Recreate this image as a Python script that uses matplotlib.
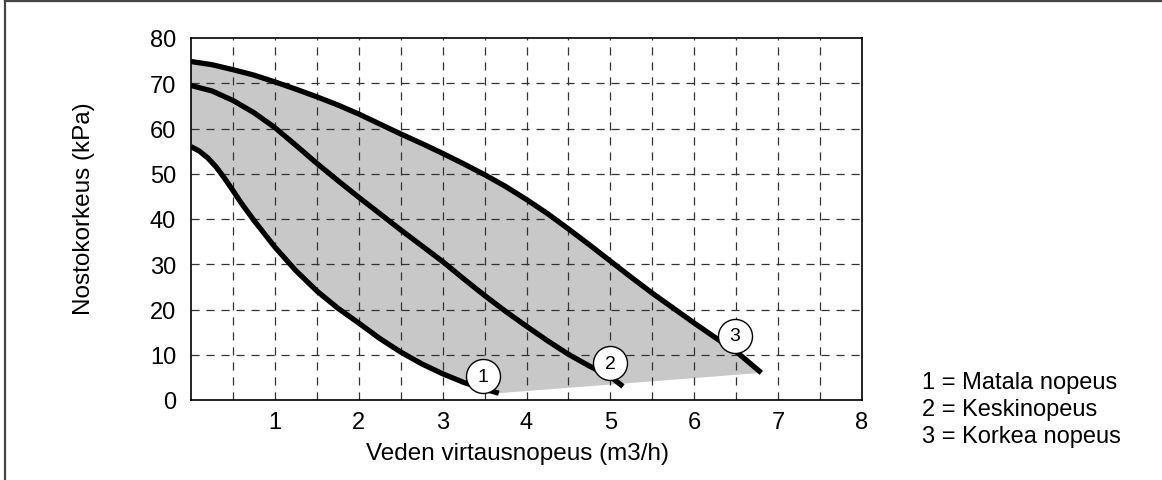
import matplotlib
matplotlib.use("Agg")
import matplotlib.pyplot as plt
from matplotlib.patches import Polygon
from matplotlib.lines import Line2D

plt.rcParams['font.family'] = ['Liberation Sans', 'DejaVu Sans']

# Curve 1 = Matala nopeus
x1 = [0.0, 0.1, 0.2, 0.3, 0.4, 0.5, 0.6, 0.75, 1.0, 1.25, 1.5, 1.75, 2.0, 2.25, 2.5, 2.75, 3.0, 3.25, 3.5, 3.67]
y1 = [56.0, 55.0, 53.5, 51.5, 49.0, 46.3, 43.5, 39.7, 33.8, 28.6, 24.1, 20.3, 17.0, 13.6, 10.6, 8.0, 5.8, 3.9, 2.4, 1.5]
# Curve 2 = Keskinopeus
x2 = [0.0, 0.25, 0.5, 0.75, 1.0, 1.25, 1.5, 1.75, 2.0, 2.25, 2.5, 2.75, 3.0, 3.25, 3.5, 3.75, 4.0, 4.25, 4.5, 4.75, 5.0, 5.15]
y2 = [69.5, 68.3, 66.2, 63.5, 60.2, 56.3, 52.3, 48.5, 44.8, 41.2, 37.6, 34.1, 30.6, 26.8, 23.1, 19.6, 16.3, 13.1, 10.1, 7.5, 5.2, 3.0]
# Curve 3 = Korkea nopeus
x3 = [0.0, 0.25, 0.5, 0.75, 1.0, 1.25, 1.5, 1.75, 2.0, 2.25, 2.5, 2.75, 3.0, 3.25, 3.5, 3.75, 4.0, 4.25, 4.5, 4.75, 5.0, 5.25, 5.5, 5.75, 6.0, 6.25, 6.5, 6.8]
y3 = [74.8, 74.1, 73.0, 71.8, 70.3, 68.7, 67.0, 65.2, 63.2, 61.0, 58.8, 56.7, 54.5, 52.2, 49.8, 47.2, 44.3, 41.2, 37.8, 34.3, 30.7, 27.1, 23.6, 20.3, 17.0, 13.8, 10.7, 6.0]

# label circle positions
lab_x = [3.48, 5.0, 6.48]
lab_y = [5.3, 8.1, 14.2]
lab_t = ["1", "2", "3"]

xticks = [1, 2, 3, 4, 5, 6, 7, 8]
yticks = [0, 10, 20, 30, 40, 50, 60, 70, 80]
legend_lines = ["1 = Matala nopeus", "2 = Keskinopeus", "3 = Korkea nopeus"]

W, H = 1162, 481
fig = plt.figure(figsize=(W / 100, H / 100), dpi=100)
ax = fig.add_axes([191 / W, 1 - 401 / H, (862 - 191) / W, (401 - 39) / H])
ax.set_xlim(0, 8)
ax.set_ylim(0, 80)

# shaded operating area: under curve 3, above curve 1 and the line joining curve ends
lower = list(zip(x1, y1))[::-1]
pts = list(zip(x3, y3)) + lower + [(0, y3[0])]
ax.add_patch(Polygon(pts, closed=True, facecolor='#c8c8c8', edgecolor='none', zorder=1))

# grid
gkw = dict(color='#333333', lw=0.9, linestyle=(0, (6.5, 5.5)), zorder=2)
for gx in [0.5 * i for i in range(1, 16)]:
    ax.axvline(gx, **gkw)
for gy in range(10, 80, 10):
    ax.axhline(gy, **gkw)

for xs, ys in [(x1, y1), (x2, y2), (x3, y3)]:
    ax.plot(xs, ys, color='black', lw=3.8, solid_capstyle='butt', solid_joinstyle='round', zorder=3)

ax.plot(lab_x, lab_y, 'o', ms=24.5, mfc='white', mec='black', mew=1.0, zorder=4, ls='none')
for lx, ly, t in zip(lab_x, lab_y, lab_t):
    ax.text(lx, ly, t, ha='center', va='center', fontsize=14, zorder=5)

ax.set_xticks(xticks)
ax.set_yticks(yticks)
ax.tick_params(length=0, labelsize=17)
ax.tick_params(axis='x', pad=8.0)
ax.tick_params(axis='y', pad=10.8)
for s in ax.spines.values():
    s.set_linewidth(1.2)
    s.set_color('black')

ax.set_xlabel("Veden virtausnopeus (m3/h)", fontsize=17.5)
ax.xaxis.set_label_coords(0.486, -0.117)
ax.set_ylabel("Nostokorkeus (kPa)", fontsize=17.5)
ax.yaxis.set_label_coords(-0.143, 0.53)

for i, t in enumerate(legend_lines):
    fig.text(922 / W, 1 - (383 + 27 * i) / H, t, fontsize=17, ha='left', va='center')

# outer frame (top and left edges visible)
fig.add_artist(Line2D([4.5 / W, 4.5 / W], [0, 1 - 1.5 / H], color='#444444', lw=1.6, transform=fig.transFigure))
fig.add_artist(Line2D([4.5 / W, 1], [1 - 1.5 / H, 1 - 1.5 / H], color='#444444', lw=1.6, transform=fig.transFigure))

fig.savefig("out.png", dpi=100)
